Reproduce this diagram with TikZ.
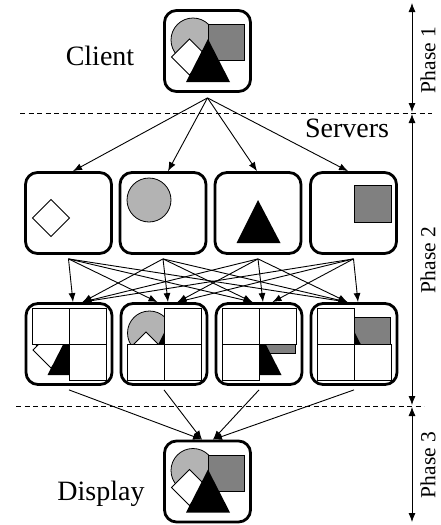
\documentclass[tikz,border=0pt]{standalone}
\usepackage{fontspec}
\setmainfont{Liberation Serif}
\usetikzlibrary{arrows.meta}
\definecolor{circgray}{HTML}{B3B3B3}
\definecolor{rectgray}{HTML}{808080}
\newcommand\compositeimg{%
  \filldraw[fill=circgray, line width=0.8pt] (-14.5,-11) circle[radius=22pt];
  \filldraw[fill=rectgray, line width=0.8pt] (0.5,-26.5) rectangle (36.5,9.5);
  \filldraw[fill=white, line width=0.8pt] (-36,6) -- (-18,-12) -- (0,6) -- (-18,24) -- cycle;
  \fill (0.5,-12) -- (-21.5,31) -- (22.5,31) -- cycle;
}
\begin{document}
\begin{tikzpicture}[x=1pt,y=-1pt,
  imgbox/.style={draw, line width=2.8pt, rounded corners=12pt, minimum width=86pt, minimum height=81pt, inner sep=0pt},
  shp/.style={line width=0.8pt},
  cell/.style={fill=white, draw=black, line width=0.8pt},
  arr/.style={line width=0.9pt, -{Latex[length=9pt,width=7pt]}},
  phasearr/.style={line width=0.8pt, {Latex[length=9pt,width=7pt]}-{Latex[length=9pt,width=7pt]}},
  sep/.style={dash pattern=on 5pt off 3.5pt, line width=0.8pt},
  biglabel/.style={font=\fontsize{28}{30}\selectfont, inner sep=0pt},
  phaselabel/.style={font=\fontsize{21.5}{23}\selectfont, rotate=90, inner sep=0pt}]
\useasboundingbox (0,0) rectangle (440,525);

% boxes
\node[imgbox] (client) at (207.5,51) {};
\node[imgbox] (s1) at (68.5,213) {};
\node[imgbox] (s2) at (163,213) {};
\node[imgbox] (s3) at (258,213) {};
\node[imgbox] (s4) at (353.5,213) {};
\node[imgbox] (m1) at (69,344) {};
\node[imgbox] (m2) at (164,344) {};
\node[imgbox] (m3) at (259,344) {};
\node[imgbox] (m4) at (354,344) {};
\node[imgbox] (display) at (207.5,481.5) {};

% client and display contents
\begin{scope}[shift={(client.center)}] \compositeimg \end{scope}
\begin{scope}[shift={(display.center)}] \compositeimg \end{scope}

% server contents
\begin{scope}[shift={(s1.center)}]
  \filldraw[shp, fill=white] (-36,5) -- (-17.5,-13.5) -- (1,5) -- (-17.5,23.5) -- cycle;
\end{scope}
\begin{scope}[shift={(s2.center)}]
  \filldraw[shp, fill=circgray] (-14,-13) circle[radius=22pt];
\end{scope}
\begin{scope}[shift={(s3.center)}]
  \fill (0,-13) -- (-21.5,30) -- (22.5,30) -- cycle;
\end{scope}
\begin{scope}[shift={(s4.center)}]
  \filldraw[shp, fill=rectgray] (0.5,-28) rectangle (37.5,9);
\end{scope}

% merged contents
\begin{scope}[shift={(m1.center)}]
  \compositeimg
  \draw[cell] (-37,-36) rectangle (0,0);
  \draw[cell] (0,-36) rectangle (37,0);
  \draw[cell] (0,0) rectangle (37,36);
\end{scope}
\begin{scope}[shift={(m2.center)}]
  \compositeimg
  \draw[cell] (0,-36) rectangle (37,0);
  \draw[cell] (-37,0) rectangle (0,36);
  \draw[cell] (0,0) rectangle (37,36);
\end{scope}
\begin{scope}[shift={(m3.center)}]
  \compositeimg
  \draw[cell] (-37,-36) rectangle (0,0);
  \draw[cell] (0,-36) rectangle (37,0);
  \draw[cell] (-37,0) rectangle (0,36);
\end{scope}
\begin{scope}[shift={(m4.center)}]
  \compositeimg
  \draw[cell] (-37,-36) rectangle (0,0);
  \draw[cell] (-37,0) rectangle (0,36);
  \draw[cell] (0,0) rectangle (37,36);
\end{scope}

% client to servers
\coordinate (cs) at ([yshift=-5pt]client.south);
\draw[arr] (cs) -- ([xshift=4.5pt]s1.north);
\draw[arr] (cs) -- ([xshift=5pt]s2.north);
\draw[arr] (cs) -- ([xshift=-1pt]s3.north);
\draw[arr] (cs) -- ([xshift=-5.5pt]s4.north);

% servers to merged
\foreach \i in {1,...,4} {
  \coordinate (sb\i) at ([yshift=-4pt]s\i.south);
  \coordinate (mb\i) at ([yshift=-4pt]m\i.south);
}
\foreach \i in {1,...,4} {
  \foreach \j in {1,...,4} {
    \pgfmathsetmacro\off{(\i<\j)*(-6.5)+(\i==\j)*4+(\i>\j)*13.5}
    \draw[arr] (sb\i) -- ([xshift=\off pt]m\j.north);
  }
}

% merged to display
\draw[arr] (mb1) -- ([xshift=-5.5pt]display.north);
\draw[arr] (mb2) -- ([xshift=-5.5pt]display.north);
\draw[arr] (mb3) -- ([xshift=5.5pt]display.north);
\draw[arr] (mb4) -- ([xshift=5.5pt]display.north);

% separators
\coordinate (d1a) at (20,113);
\coordinate (d1b) at (432,113);
\coordinate (d2a) at (16,406);
\coordinate (d2b) at (424,406);
\draw[sep] (d1a) -- (d1b);
\draw[sep] (d2a) -- (d2b);

% phase arrows
\coordinate (p0) at (412,3);
\coordinate (p1) at (412,112);
\coordinate (p1b) at (412,114);
\coordinate (p2) at (412,405);
\coordinate (p2b) at (412,407);
\coordinate (p3) at (412,522);
\draw[phasearr] (p0) -- (p1);
\draw[phasearr] (p1b) -- (p2);
\draw[phasearr] (p2b) -- (p3);

% labels
\node[biglabel] (lclient) at (100,56) {Client};
\node[biglabel] (lservers) at (347,128) {Servers};
\node[biglabel] (ldisplay) at (101,494) {Display};
\node[phaselabel] (ph1) at (428,60) {Phase 1};
\node[phaselabel] (ph2) at (428,260) {Phase 2};
\node[phaselabel] (ph3) at (428,465) {Phase 3};
\end{tikzpicture}
\end{document}
